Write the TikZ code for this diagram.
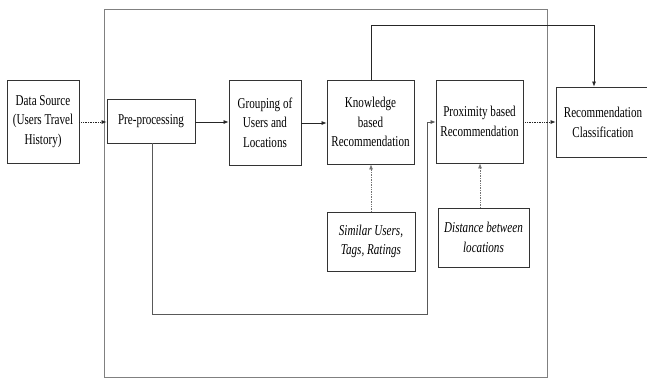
\documentclass[tikz,border=0pt]{standalone}
\usepackage{fontspec}
\setmainfont{Liberation Serif}[FakeStretch=0.74]
\usetikzlibrary{arrows.meta}
\begin{document}
\begin{tikzpicture}[x=1pt,y=-1pt,
  box/.style={draw=black!80,line width=0.8pt,align=center,inner sep=1pt,
    font=\fontsize{15}{19.5}\selectfont},
  ibox/.style={box,font=\fontsize{15}{19.5}\selectfont\itshape},
  arr/.style={draw=black!85,line width=0.7pt,-{Latex[length=5pt,width=4pt]}},
  darr/.style={arr,densely dotted},
  gline/.style={draw=black!50,line width=0.9pt}]
\clip (0,0) rectangle (647,378);
\draw[gline] (104,9) rectangle (547,377);
\node[box,minimum width=72,minimum height=83] (ds) at (43,121.5) {Data Source\\(Users Travel\\History)};
\node[box,minimum width=88,minimum height=44] (pre) at (151,121) {Pre-processing};
\node[box,minimum width=72,minimum height=85] (grp) at (265,122.5) {Grouping of\\Users and\\Locations};
\node[box,minimum width=87,minimum height=84] (kb) at (370.5,122) {Knowledge\\based\\Recommendation};
\node[box,minimum width=87,minimum height=83] (prox) at (479.5,121.5) {Proximity based\\Recommendation};
\node[box,minimum width=100,minimum height=70] (rc) at (606,122) {};
\node[align=center,font=\fontsize{15}{19.5}\selectfont] (rct) at (603,122.5) {Recommendation\\Classification};
\node[ibox,minimum width=88,minimum height=59] (sim) at (371,241.5) {Similar Users,\\Tags, Ratings};
\node[ibox,minimum width=91,minimum height=59] (dist) at (483.5,237.5) {Distance between\\locations};
\coordinate (t1) at (371,25);
\coordinate (t2) at (594,25);
\coordinate (l1) at (152,314);
\coordinate (l2) at (427,314);
\coordinate (l3) at (427,122);
\draw[darr] (ds.east |- 0,122) -- (pre.west |- 0,122);
\draw[arr] (pre.east |- 0,122) -- (grp.west |- 0,122);
\draw[arr] (grp.east |- 0,123) -- (kb.west |- 0,123);
\draw[darr] (prox.east |- 0,122) -- (rc.west |- 0,122);
\draw[arr] (kb.north -| t1) -- (t1) -- (t2) -- (rc.north -| t2);
\draw[arr,draw=black!65] (pre.south -| l1) -- (l1) -- (l2) -- (l3) -- (prox.west |- l3);
\draw[darr,draw=black!55] (sim.north) -- (kb.south -| sim.north);
\draw[darr,draw=black!55] (dist.north -| 480,0) -- (prox.south -| 480,0);
\end{tikzpicture}
\end{document}
